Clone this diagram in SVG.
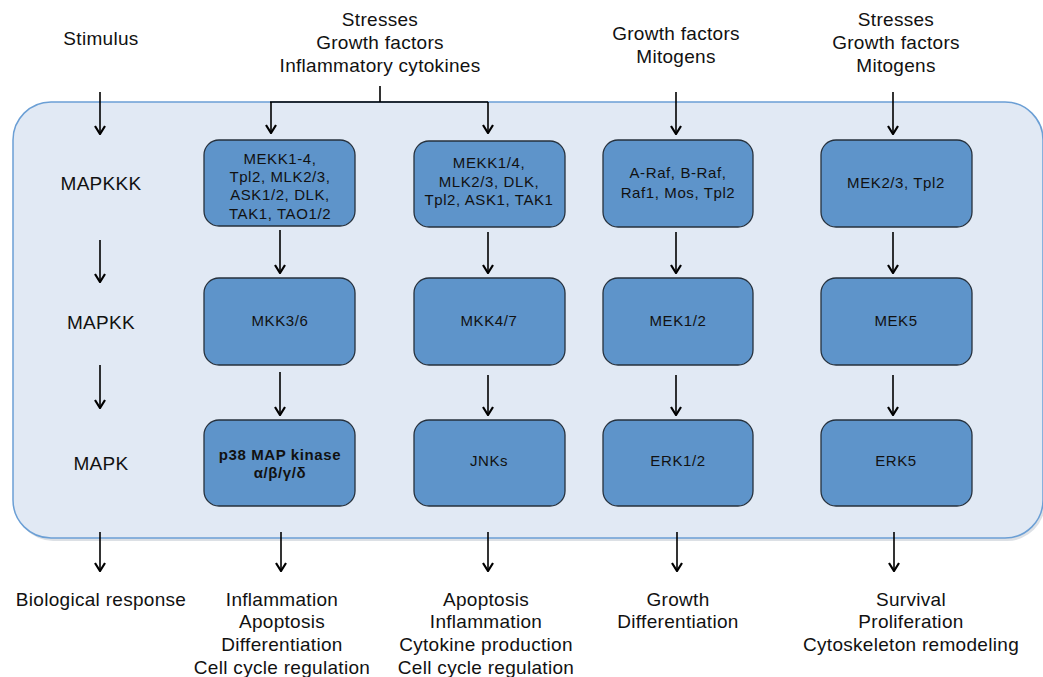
<svg xmlns="http://www.w3.org/2000/svg" width="1043" height="677" viewBox="0 0 1043 677">
<defs>
<marker id="ah" markerWidth="10" markerHeight="12" refX="9" refY="6" orient="auto" markerUnits="userSpaceOnUse" viewBox="0 0 10 12">
<path d="M1,1 L9,6 L1,11" fill="none" stroke="#000" stroke-width="2.2"/>
</marker>
<style>
.lbl{font-family:"Liberation Sans",Arial,sans-serif;font-size:19px;letter-spacing:0.3px;fill:#111;text-anchor:middle}
.bx{fill:#5e94ca;stroke:#26313d;stroke-width:1.3}
.bt{font-family:"Liberation Sans",Arial,sans-serif;font-size:15px;letter-spacing:0.6px;fill:#111;text-anchor:middle}
.bb{font-weight:bold}
.ar{stroke:#000;stroke-width:1.6;fill:none;marker-end:url(#ah)}
.ln{stroke:#000;stroke-width:1.6;fill:none}
</style>
</defs>
<rect width="1043" height="677" fill="#fff"/>
<g id="panel">
<rect x="15" y="104" width="1030" height="437" rx="38" fill="#9aa6b5" opacity="0.35"/>
<rect x="13" y="102" width="1030" height="436" rx="38" fill="#e1e9f4" stroke="#6b9fd5" stroke-width="1.5"/>
</g>
<g id="labels">
<text class="lbl" x="101" y="45">Stimulus</text>
<text class="lbl" x="380" y="26">Stresses</text>
<text class="lbl" x="380" y="49">Growth factors</text>
<text class="lbl" x="380" y="72">Inflammatory cytokines</text>
<text class="lbl" x="676" y="40">Growth factors</text>
<text class="lbl" x="676" y="63">Mitogens</text>
<text class="lbl" x="896" y="26">Stresses</text>
<text class="lbl" x="896" y="49">Growth factors</text>
<text class="lbl" x="896" y="72">Mitogens</text>
<text class="lbl" x="101" y="190">MAPKKK</text>
<text class="lbl" x="101" y="329">MAPKK</text>
<text class="lbl" x="101" y="470">MAPK</text>
<text class="lbl" x="101" y="606">Biological response</text>
<text class="lbl" x="282" y="606">Inflammation</text>
<text class="lbl" x="282" y="628">Apoptosis</text>
<text class="lbl" x="282" y="651">Differentiation</text>
<text class="lbl" x="282" y="674">Cell cycle regulation</text>
<text class="lbl" x="486" y="606">Apoptosis</text>
<text class="lbl" x="486" y="628">Inflammation</text>
<text class="lbl" x="486" y="651">Cytokine production</text>
<text class="lbl" x="486" y="674">Cell cycle regulation</text>
<text class="lbl" x="678" y="606">Growth</text>
<text class="lbl" x="678" y="628">Differentiation</text>
<text class="lbl" x="911" y="606">Survival</text>
<text class="lbl" x="911" y="628">Proliferation</text>
<text class="lbl" x="911" y="651">Cytoskeleton remodeling</text>
</g>
<g id="connectors">
<line class="ar" x1="100" y1="92" x2="100" y2="134"/>
<line class="ar" x1="100" y1="240" x2="100" y2="282"/>
<line class="ar" x1="100" y1="365" x2="100" y2="408"/>
<path class="ln" d="M380,86 V102 M270,102 H488"/>
<line class="ar" x1="271" y1="102" x2="271" y2="133"/>
<line class="ar" x1="488" y1="102" x2="488" y2="133"/>
<line class="ar" x1="676" y1="92" x2="676" y2="134"/>
<line class="ar" x1="893" y1="92" x2="893" y2="134"/>
<line class="ar" x1="280" y1="230" x2="280" y2="273"/>
<line class="ar" x1="488" y1="232" x2="488" y2="273"/>
<line class="ar" x1="676" y1="232" x2="676" y2="273"/>
<line class="ar" x1="893" y1="232" x2="893" y2="273"/>
<line class="ar" x1="280" y1="372" x2="280" y2="415"/>
<line class="ar" x1="488" y1="375" x2="488" y2="415"/>
<line class="ar" x1="676" y1="375" x2="676" y2="415"/>
<line class="ar" x1="893" y1="375" x2="893" y2="415"/>
<line class="ar" x1="100" y1="532" x2="100" y2="571"/>
<line class="ar" x1="281" y1="532" x2="281" y2="571"/>
<line class="ar" x1="488" y1="532" x2="488" y2="571"/>
<line class="ar" x1="677" y1="532" x2="677" y2="571"/>
<line class="ar" x1="894" y1="532" x2="894" y2="571"/>
</g>
<g id="n-mapkkk1"><rect class="bx" x="204" y="140" width="151" height="86" rx="15"/>
<text class="bt" x="280" y="164">MEKK1-4,</text><text class="bt" x="280" y="182">Tpl2, MLK2/3,</text><text class="bt" x="280" y="200">ASK1/2, DLK,</text><text class="bt" x="280" y="219">TAK1, TAO1/2</text></g>
<g id="n-mapkkk2"><rect class="bx" x="414" y="141" width="151" height="86" rx="15"/>
<text class="bt" x="489" y="168">MEKK1/4,</text><text class="bt" x="489" y="187">MLK2/3, DLK,</text><text class="bt" x="489" y="205">Tpl2, ASK1, TAK1</text></g>
<g id="n-mapkkk3"><rect class="bx" x="603" y="140" width="150" height="87" rx="15"/>
<text class="bt" x="678" y="178">A-Raf, B-Raf,</text><text class="bt" x="678" y="198">Raf1, Mos, Tpl2</text></g>
<g id="n-mapkkk4"><rect class="bx" x="821" y="140" width="151" height="87" rx="15"/>
<text class="bt" x="896" y="188">MEK2/3, Tpl2</text></g>
<g id="n-mapkk1"><rect class="bx" x="204" y="278" width="151" height="87" rx="15"/>
<text class="bt" x="280" y="326">MKK3/6</text></g>
<g id="n-mapkk2"><rect class="bx" x="414" y="278" width="151" height="87" rx="15"/>
<text class="bt" x="489" y="326">MKK4/7</text></g>
<g id="n-mapkk3"><rect class="bx" x="603" y="278" width="150" height="87" rx="15"/>
<text class="bt" x="678" y="326">MEK1/2</text></g>
<g id="n-mapkk4"><rect class="bx" x="821" y="278" width="151" height="87" rx="15"/>
<text class="bt" x="896" y="326">MEK5</text></g>
<g id="n-mapk1"><rect class="bx" x="204" y="420" width="151" height="86" rx="15"/>
<text class="bt bb" x="280" y="460">p38 MAP kinase</text><text class="bt bb" x="280" y="478">α/β/γ/δ</text></g>
<g id="n-mapk2"><rect class="bx" x="414" y="420" width="151" height="86" rx="15"/>
<text class="bt" x="489" y="466">JNKs</text></g>
<g id="n-mapk3"><rect class="bx" x="603" y="420" width="150" height="86" rx="15"/>
<text class="bt" x="678" y="466">ERK1/2</text></g>
<g id="n-mapk4"><rect class="bx" x="821" y="420" width="151" height="86" rx="15"/>
<text class="bt" x="896" y="466">ERK5</text></g>
</svg>
